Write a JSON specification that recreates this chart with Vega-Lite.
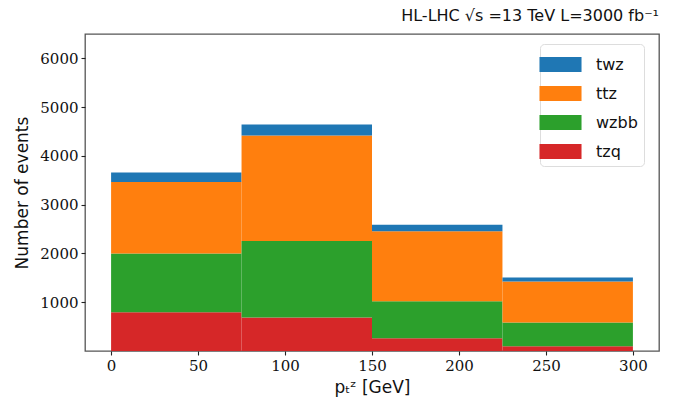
{
  "$schema": "https://vega.github.io/schema/vega-lite/v6.json",
  "width": 574,
  "height": 317,
  "autosize": {"type": "none"},
  "padding": {"left": 85, "top": 34, "right": 24, "bottom": 56},
  "background": "white",
  "config": {
    "view": {"stroke": "#555555", "strokeWidth": 1.3},
    "axis": {"domain": false, "grid": false, "tickColor": "#222222", "tickSize": 4, "tickWidth": 1.1}
  },
  "title": {
    "text": "HL-LHC √s =13 TeV L=3000 fb⁻¹",
    "anchor": "end",
    "frame": "group",
    "font": "DejaVu Sans",
    "fontSize": 16,
    "fontWeight": "normal",
    "color": "#111111",
    "offset": 10
  },
  "data": {
    "values": [
      {"lo": 0, "hi": 75, "process": "tzq", "events": 795},
      {"lo": 0, "hi": 75, "process": "wzbb", "events": 1206},
      {"lo": 0, "hi": 75, "process": "ttz", "events": 1465},
      {"lo": 0, "hi": 75, "process": "twz", "events": 193},
      {"lo": 75, "hi": 150, "process": "tzq", "events": 686},
      {"lo": 75, "hi": 150, "process": "wzbb", "events": 1568},
      {"lo": 75, "hi": 150, "process": "ttz", "events": 2165},
      {"lo": 75, "hi": 150, "process": "twz", "events": 226},
      {"lo": 150, "hi": 225, "process": "tzq", "events": 261},
      {"lo": 150, "hi": 225, "process": "wzbb", "events": 760},
      {"lo": 150, "hi": 225, "process": "ttz", "events": 1432},
      {"lo": 150, "hi": 225, "process": "twz", "events": 137},
      {"lo": 225, "hi": 300, "process": "tzq", "events": 97},
      {"lo": 225, "hi": 300, "process": "wzbb", "events": 486},
      {"lo": 225, "hi": 300, "process": "ttz", "events": 843},
      {"lo": 225, "hi": 300, "process": "twz", "events": 82}
    ]
  },
  "transform": [
    {"calculate": "indexof(['tzq','wzbb','ttz','twz'], datum.process)", "as": "stackorder"}
  ],
  "mark": {"type": "bar", "stroke": null},
  "encoding": {
    "x": {
      "field": "lo",
      "type": "quantitative",
      "scale": {"domain": [-15, 315], "nice": false, "zero": false, "padding": 0},
      "axis": {
        "values": [0, 50, 100, 150, 200, 250, 300],
        "format": "d",
        "title": "pₜᶻ [GeV]",
        "titleFont": "DejaVu Sans",
        "titleFontSize": 17,
        "titleFontWeight": "normal",
        "titleColor": "#111111",
        "titlePadding": 6,
        "labelFont": "DejaVu Serif",
        "labelFontSize": 15,
        "labelColor": "#111111",
        "labelPadding": 3
      }
    },
    "x2": {"field": "hi"},
    "y": {
      "field": "events",
      "type": "quantitative",
      "aggregate": "sum",
      "stack": "zero",
      "scale": {"domain": [0, 6500], "nice": false, "padding": 0},
      "axis": {
        "values": [1000, 2000, 3000, 4000, 5000, 6000],
        "format": "d",
        "title": "Number of events",
        "titleFont": "DejaVu Sans",
        "titleFontSize": 17,
        "titleFontWeight": "normal",
        "titleColor": "#111111",
        "titlePadding": 8,
        "labelFont": "DejaVu Serif",
        "labelFontSize": 15,
        "labelColor": "#111111",
        "labelPadding": 3
      }
    },
    "color": {
      "field": "process",
      "type": "nominal",
      "scale": {
        "domain": ["twz", "ttz", "wzbb", "tzq"],
        "range": ["#1f77b4", "#ff7f0e", "#2ca02c", "#d62728"]
      },
      "legend": {
        "title": null,
        "orient": "none",
        "legendX": 455,
        "legendY": 10,
        "padding": 6,
        "strokeColor": "#dddddd",
        "fillColor": "white",
        "cornerRadius": 4,
        "symbolType": "M-1.45,-0.52L1.45,-0.52L1.45,0.52L-1.45,0.52Z",
        "symbolSize": 841,
        "symbolStrokeWidth": 0,
        "symbolOpacity": 1,
        "labelFont": "DejaVu Sans",
        "labelFontSize": 16,
        "labelColor": "#111111",
        "labelOffset": 21,
        "rowPadding": 6
      }
    },
    "order": {"field": "stackorder", "type": "quantitative"}
  }
}
